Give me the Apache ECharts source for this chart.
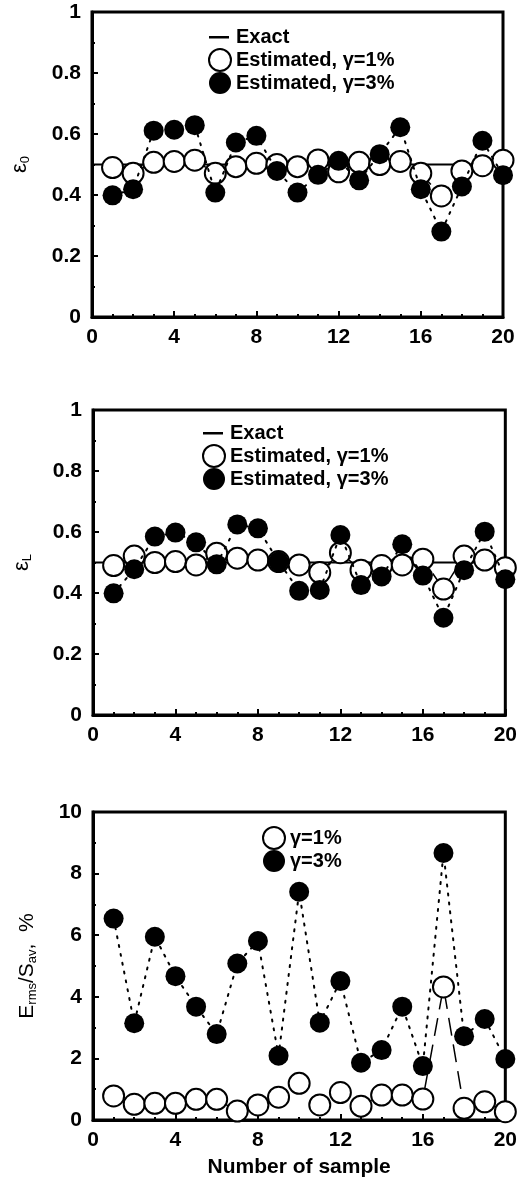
<!DOCTYPE html>
<html>
<head>
<meta charset="utf-8">
<script src="https://cdn.jsdelivr.net/npm/echarts@6/dist/echarts.min.js"></script>
<style>
  html, body { margin: 0; padding: 0; background: #fff; }
  #main { width: 520px; height: 1189px; }
</style>
</head>
<body>
<div id="main"></div>
<script>
// sample numbers 1..20
var samples = [1, 2, 3, 4, 5, 6, 7, 8, 9, 10, 11, 12, 13, 14, 15, 16, 17, 18, 19, 20];
var exactX = [0, 20];
var exactE0 = 0.5;
var exactEL = 0.5;

// panel 1: eps_0
var e0Noise1 = [0.490, 0.471, 0.507, 0.510, 0.514, 0.471, 0.493, 0.504, 0.500, 0.493,
                0.515, 0.476, 0.507, 0.500, 0.510, 0.471, 0.397, 0.479, 0.496, 0.514];
var e0Noise3 = [0.399, 0.419, 0.611, 0.614, 0.629, 0.408, 0.572, 0.594, 0.479, 0.408,
                0.466, 0.512, 0.448, 0.534, 0.622, 0.419, 0.280, 0.428, 0.578, 0.465];

// panel 2: eps_L
var eLNoise1 = [0.490, 0.521, 0.500, 0.503, 0.492, 0.530, 0.514, 0.508, 0.503, 0.492,
                0.467, 0.532, 0.475, 0.490, 0.492, 0.511, 0.413, 0.521, 0.508, 0.483];
var eLNoise3 = [0.399, 0.478, 0.585, 0.598, 0.566, 0.494, 0.625, 0.612, 0.503, 0.407,
                0.410, 0.590, 0.426, 0.454, 0.560, 0.457, 0.319, 0.475, 0.601, 0.445];

// panel 3: Erms/Sav, %
var errNoise1 = [0.78, 0.51, 0.54, 0.54, 0.67, 0.67, 0.29, 0.49, 0.74, 1.19,
                 0.49, 0.89, 0.45, 0.81, 0.81, 0.68, 4.32, 0.38, 0.59, 0.27];
var errNoise3 = [6.54, 3.14, 5.95, 4.67, 3.68, 2.79, 5.08, 5.81, 2.09, 7.41,
                 3.16, 4.51, 1.86, 2.27, 3.68, 1.75, 8.67, 2.72, 3.28, 1.98];

var xTicks = { min: 0, max: 20, interval: 4 };
var epsTicks = { min: 0, max: 1, interval: 0.2 };
var errTicks = { min: 0, max: 10, interval: 2 };

function pairs(xs, ys) {
    return xs.map(function (x, i) { return [x, ys[i]]; });
}

var font = 'Liberation Sans, Arial, Helvetica, sans-serif';

function xAxisOpt(idx, withName) {
    return {
        gridIndex: idx,
        type: 'value',
        min: xTicks.min,
        max: xTicks.max,
        interval: xTicks.interval,
        name: withName ? 'Number of sample' : '',
        nameLocation: 'middle',
        nameGap: 37,
        nameTextStyle: { fontFamily: font, fontSize: 21, fontWeight: 'bold', color: '#000' },
        axisLine: { lineStyle: { color: '#000', width: 3 } },
        axisTick: { inside: true, length: 6, lineStyle: { color: '#000', width: 2 } },
        minorTick: { show: true, splitNumber: 4, length: 3, lineStyle: { color: '#000', width: 2 } },
        axisLabel: { fontFamily: font, fontSize: 21, fontWeight: 'bold', color: '#000', margin: 10 },
        splitLine: { show: false }
    };
}

function yAxisOpt(idx, ticks, name, gap) {
    return {
        gridIndex: idx,
        type: 'value',
        min: ticks.min,
        max: ticks.max,
        interval: ticks.interval,
        name: name,
        nameLocation: 'middle',
        nameRotate: 90,
        nameGap: gap,
        nameTextStyle: {
            fontFamily: font, color: '#000',
            rich: {
                e: { fontFamily: font, fontSize: 22, color: '#000', lineHeight: 24, verticalAlign: 'middle' },
                t: { fontFamily: font, fontSize: 21, color: '#000', lineHeight: 24, verticalAlign: 'middle' },
                s: { fontFamily: font, fontSize: 13, color: '#000', lineHeight: 14, verticalAlign: 'bottom' }
            }
        },
        axisLine: { lineStyle: { color: '#000', width: 3 } },
        axisTick: { inside: true, length: 6, lineStyle: { color: '#000', width: 2 } },
        minorTick: { show: true, splitNumber: 2, length: 3, lineStyle: { color: '#000', width: 2 } },
        axisLabel: {
            fontFamily: font, fontSize: 21, fontWeight: 'bold', color: '#000', margin: 11,
            formatter: function (v) { return String(Math.round(v * 10) / 10); }
        },
        splitLine: { show: false }
    };
}

var openItem = { color: '#fff', borderColor: '#000', borderWidth: 2 };
var fullItem = { color: '#000', borderColor: '#000', borderWidth: 0 };
var dotted = { color: '#000', width: 2, type: [2, 7], cap: 'round' };
var dashed = { color: '#000', width: 1.5, type: [18, 9] };

function exactSeries(idx, v) {
    return {
        name: 'Exact', type: 'line', xAxisIndex: idx, yAxisIndex: idx,
        data: pairs(exactX, [v, v]), symbol: 'none',
        lineStyle: { color: '#000', width: 2 }, itemStyle: { color: '#000' },
        silent: true, z: 1
    };
}
function openSeries(idx, name, ys) {
    return {
        name: name, type: 'line', xAxisIndex: idx, yAxisIndex: idx,
        data: pairs(samples, ys), symbol: 'circle', symbolSize: 21,
        lineStyle: dashed, itemStyle: openItem, z: 2
    };
}
function fullSeries(idx, name, ys) {
    return {
        name: name, type: 'line', xAxisIndex: idx, yAxisIndex: idx,
        data: pairs(samples, ys), symbol: 'circle', symbolSize: 20,
        lineStyle: dotted, itemStyle: fullItem, z: 3
    };
}

// short horizontal bar, padded to a 22x22 box so it is not stretched
var barIcon = 'path://M0,0L0.01,0M0,10L20,10L20,12.5L0,12.5ZM21.99,22L22,22';

function legendOpt(left, top, names) {
    return {
        left: left, top: top, orient: 'vertical',
        itemWidth: 22, itemHeight: 22, itemGap: 0,
        selectedMode: false,
        textStyle: { fontFamily: font, fontSize: 20, fontWeight: 'bold', color: '#000' },
        data: names
    };
}

var epsLegend = [
    { name: 'Exact', icon: barIcon, itemStyle: { color: '#000', borderWidth: 0 } },
    { name: 'Estimated, γ=1%', icon: 'circle' },
    { name: 'Estimated, γ=3%', icon: 'circle' }
];

var chart = echarts.init(document.getElementById('main'), null, { renderer: 'canvas' });
chart.setOption({
    animation: false,
    backgroundColor: '#fff',
    grid: [
        { left: 92, right: 17, top: 12, height: 305, show: true, borderColor: '#000', borderWidth: 3 },
        { left: 93, right: 14, top: 410, height: 305, show: true, borderColor: '#000', borderWidth: 3 },
        { left: 93, right: 13, top: 812, height: 308, show: true, borderColor: '#000', borderWidth: 3 }
    ],
    xAxis: [xAxisOpt(0, false), xAxisOpt(1, false), xAxisOpt(2, true)],
    yAxis: [
        yAxisOpt(0, epsTicks, '{e|ε}{s|0}', 60),
        yAxisOpt(1, epsTicks, '{e|ε}{s|L}', 59),
        yAxisOpt(2, errTicks, '{t|E}{s|rms}{t|/S}{s|av}{t|,  %}', 54)
    ],
    legend: [
        legendOpt(203, 21, epsLegend),
        legendOpt(197, 417, epsLegend),
        legendOpt(257, 821, [
            { name: 'γ=1%', icon: 'circle' },
            { name: 'γ=3%', icon: 'circle' }
        ])
    ],
    series: [
        exactSeries(0, exactE0),
        openSeries(0, 'Estimated, γ=1%', e0Noise1),
        fullSeries(0, 'Estimated, γ=3%', e0Noise3),
        exactSeries(1, exactEL),
        openSeries(1, 'Estimated, γ=1%', eLNoise1),
        fullSeries(1, 'Estimated, γ=3%', eLNoise3),
        openSeries(2, 'γ=1%', errNoise1),
        fullSeries(2, 'γ=3%', errNoise3)
    ]
});
</script>
</body>
</html>
